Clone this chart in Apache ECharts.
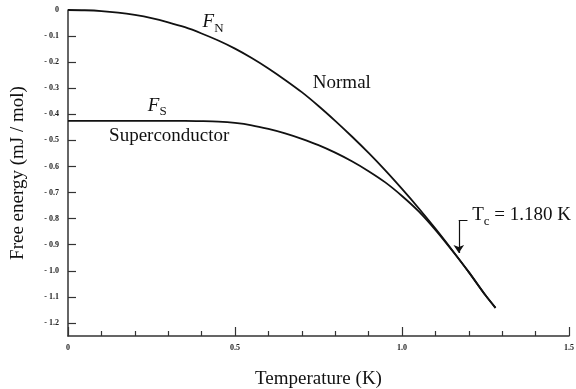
<!DOCTYPE html>
<html>
<head>
<meta charset="utf-8">
<script src="https://cdn.jsdelivr.net/npm/echarts@6/dist/echarts.min.js"></script>
<style>
  html, body { margin: 0; padding: 0; background: #fff; }
  #chart { width: 576px; height: 389px; }
</style>
</head>
<body>
<div id="chart"></div>
<script>
// Temperature samples (K)
const temperatures = [
  0, 0.05, 0.1, 0.15, 0.2, 0.25, 0.3, 0.35, 0.4, 0.45,
  0.5, 0.55, 0.6, 0.65, 0.7, 0.75, 0.8, 0.85, 0.9, 0.95,
  1.0, 1.05, 1.1, 1.15, 1.2, 1.25, 1.28
];

// Free energy of the normal state, F_N (mJ/mol)
const normalEnergy = [
  0, -0.001, -0.004, -0.010, -0.019, -0.031, -0.047, -0.066, -0.090, -0.117,
  -0.148, -0.184, -0.224, -0.268, -0.315, -0.368, -0.425, -0.485, -0.548, -0.615,
  -0.686, -0.760, -0.838, -0.920, -1.005, -1.094, -1.142
];

// Free energy of the superconducting state, F_S (mJ/mol)
const superEnergy = [
  -0.425, -0.425, -0.425, -0.425, -0.425, -0.425, -0.425, -0.425, -0.426, -0.428,
  -0.433, -0.442, -0.456, -0.473, -0.494, -0.518, -0.547, -0.580, -0.618, -0.661,
  -0.713, -0.772, -0.843, -0.922, -1.005, -1.094, -1.142
];

// Axis ticks
const yTickValues = [-0.1, -0.2, -0.3, -0.4, -0.5, -0.6, -0.7, -0.8, -0.9, -1.0, -1.1, -1.2];
const yLabelValues = [0].concat(yTickValues);

// Critical temperature (K)
const criticalTemp = 1.17;
const criticalLabel = '1.180 K';

const serif = 'Liberation Serif';
const ink = '#111';
const axisInk = '#333';

const pairs = (ys) => temperatures.map((t, i) => [t, ys[i]]);

const tickLabelStyle = {
  fontFamily: serif,
  fontWeight: 'bold',
  fontSize: 8,
  color: '#222'
};

const nameStyle = {
  fontFamily: serif,
  fontSize: 19,
  color: ink
};

const richStyles = {
  it: { fontFamily: serif, fontStyle: 'italic', fontSize: 19, lineHeight: 22, verticalAlign: 'top', color: ink, opacity: 1 },
  up: { fontFamily: serif, fontSize: 19, lineHeight: 22, verticalAlign: 'top', color: ink, opacity: 1 },
  sub: { fontFamily: serif, fontSize: 13, lineHeight: 12, verticalAlign: 'bottom', color: ink, opacity: 1 }
};

const annotations = [
  { value: [0.403, -0.0525], text: '{it|F}{sub|N}' },
  { value: [0.733, -0.287], text: '{up|Normal}' },
  { value: [0.239, -0.373], text: '{it|F}{sub|S}' },
  { value: [0.123, -0.4885], text: '{up|Superconductor}' },
  { value: [1.210, -0.793], text: '{up|T}{sub|c}{up| = ' + criticalLabel + '}' }
];

const chart = echarts.init(document.getElementById('chart'), null, { renderer: 'canvas' });

chart.setOption({
  animation: false,
  backgroundColor: '#fff',
  grid: { left: 68, right: 7, top: 10, bottom: 53, outerBoundsMode: 'none', containLabel: false },
  xAxis: {
    type: 'value',
    min: 0,
    max: 1.5,
    interval: 0.5,
    name: 'Temperature (K)',
    nameLocation: 'middle',
    nameGap: 34,
    nameTextStyle: nameStyle,
    axisLine: { show: true, onZero: false, lineStyle: { color: axisInk, width: 1.5 } },
    axisTick: { show: true, inside: true, length: 9, lineStyle: { color: axisInk, width: 1.2 } },
    minorTick: { show: true, splitNumber: 5, length: 5, lineStyle: { color: axisInk, width: 1.2 } },
    splitLine: { show: false },
    minorSplitLine: { show: false },
    axisLabel: Object.assign({
      margin: 8,
      formatter: (v) => (v === 0 ? '0' : v.toFixed(1))
    }, tickLabelStyle)
  },
  yAxis: {
    type: 'value',
    min: -1.25,
    max: 0,
    name: 'Free energy (mJ / mol)',
    nameLocation: 'middle',
    nameGap: 40,
    nameTextStyle: nameStyle,
    axisLine: { show: true, onZero: false, lineStyle: { color: axisInk, width: 1.5 } },
    axisTick: {
      show: true, inside: true, length: 8,
      customValues: yTickValues,
      lineStyle: { color: axisInk, width: 1.2 }
    },
    splitLine: { show: false },
    axisLabel: Object.assign({
      margin: 9,
      customValues: yLabelValues,
      formatter: (v) => (Math.abs(v) < 1e-9 ? '0' : '- ' + Math.abs(v).toFixed(1))
    }, tickLabelStyle)
  },
  series: [
    {
      name: 'Normal',
      type: 'line',
      data: pairs(normalEnergy),
      showSymbol: false,
      smooth: 0.3,
      lineStyle: { color: ink, width: 1.8 },
      z: 3
    },
    {
      name: 'Superconductor',
      type: 'line',
      data: pairs(superEnergy),
      showSymbol: false,
      smooth: 0.3,
      lineStyle: { color: ink, width: 1.8 },
      z: 3
    },
    {
      // leader from the T_c label
      type: 'lines',
      coordinateSystem: 'cartesian2d',
      symbol: ['none', 'none'],
      lineStyle: { color: ink, width: 1.2, opacity: 1 },
      data: [{ coords: [[criticalTemp + 0.026, -0.805], [criticalTemp, -0.805]] }],
      silent: true,
      z: 4
    },
    {
      // arrow down to the transition point
      type: 'lines',
      coordinateSystem: 'cartesian2d',
      symbol: ['none', 'arrow'],
      symbolSize: [5, 8],
      lineStyle: { color: ink, width: 1.2, opacity: 1 },
      data: [{ coords: [[criticalTemp, -0.805], [criticalTemp, -0.932]] }],
      silent: true,
      z: 4
    },
    {
      type: 'scatter',
      symbolSize: 0,
      silent: true,
      itemStyle: { opacity: 1 },
      data: annotations.map((a) => ({ value: a.value, text: a.text })),
      label: {
        show: true,
        position: 'right',
        distance: 0,
        align: 'left',
        verticalAlign: 'middle',
        color: ink,
        opacity: 1,
        formatter: (p) => p.data.text,
        rich: richStyles
      },
      z: 5
    }
  ]
});
</script>
</body>
</html>
